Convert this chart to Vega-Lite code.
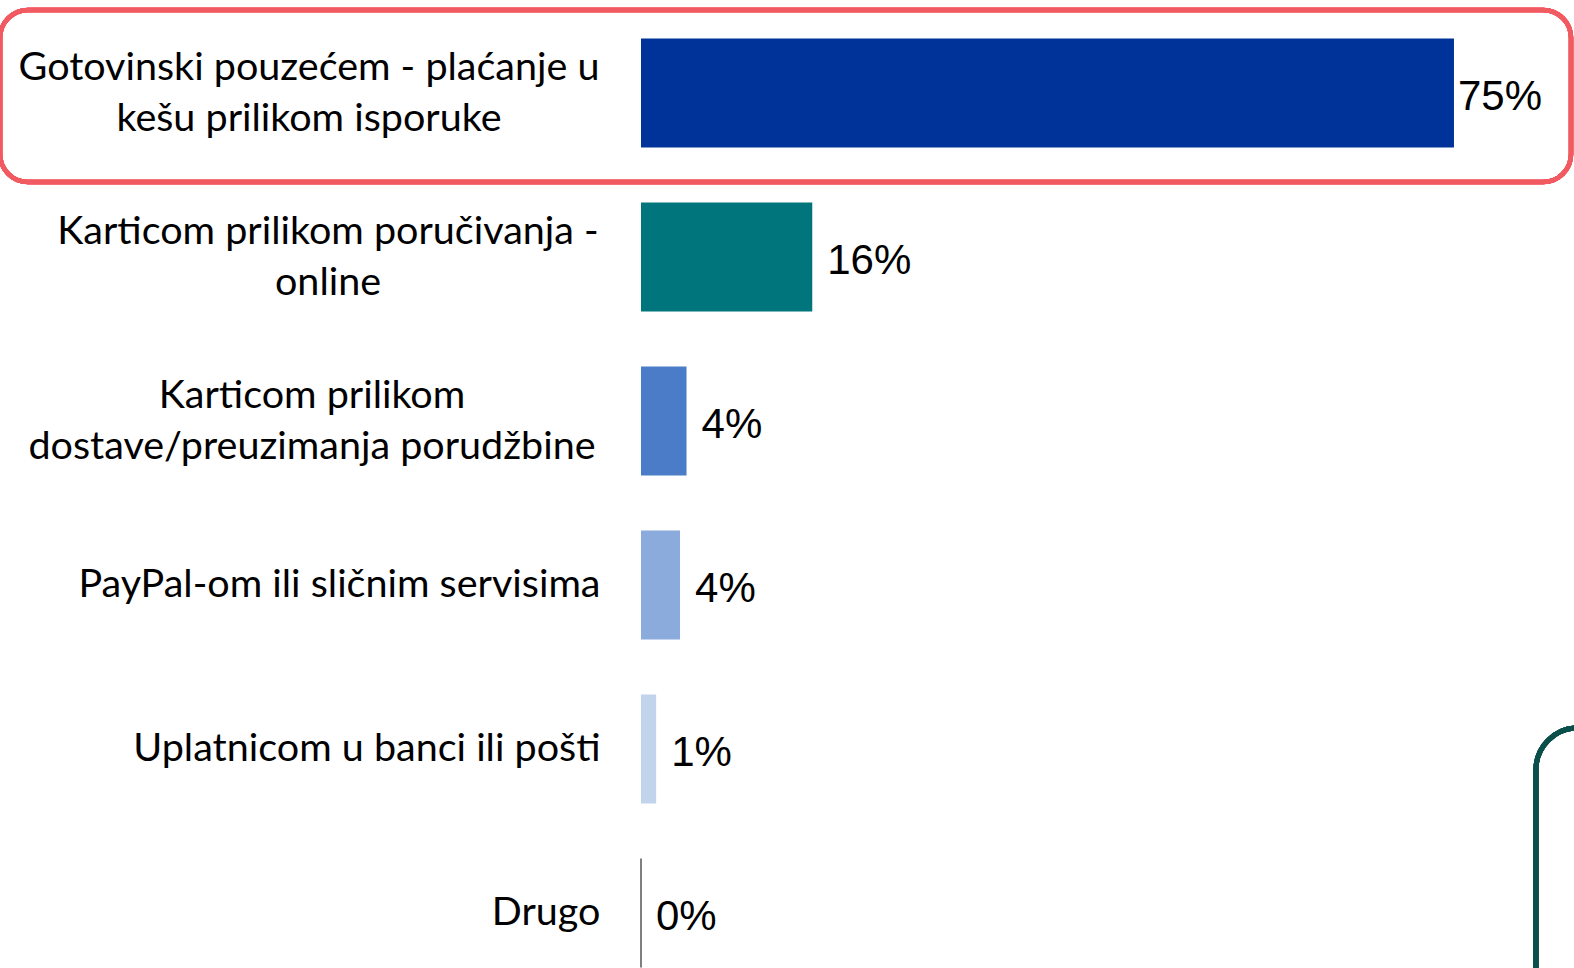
{
  "$schema": "https://vega.github.io/schema/vega-lite/v6.json",
  "autosize": {"type": "none"},
  "padding": {"left": 641, "top": 11, "right": 0, "bottom": 0},
  "width": 936,
  "height": 984,
  "background": "white",
  "config": {"view": {"stroke": null}},
  "data": {
    "values": [
      {"cat": "Gotovinski pouzećem - plaćanje u|kešu prilikom isporuke", "share": 0.75},
      {"cat": "Karticom prilikom poručivanja -|online", "share": 0.158},
      {"cat": "Karticom prilikom|dostave/preuzimanja porudžbine", "share": 0.042},
      {"cat": "PayPal-om ili sličnim servisima", "share": 0.036},
      {"cat": "Uplatnicom u banci ili pošti", "share": 0.014},
      {"cat": "Drugo", "share": 0}
    ]
  },
  "encoding": {
    "y": {
      "field": "cat",
      "type": "nominal",
      "sort": null,
      "title": null,
      "scale": {
        "domain": [
          "Gotovinski pouzećem - plaćanje u|kešu prilikom isporuke",
          "Karticom prilikom poručivanja -|online",
          "Karticom prilikom|dostave/preuzimanja porudžbine",
          "PayPal-om ili sličnim servisima",
          "Uplatnicom u banci ili pošti",
          "Drugo"
        ],
        "paddingInner": 0.335,
        "paddingOuter": 0.1675
      },
      "axis": {
        "domain": false,
        "ticks": false,
        "labelExpr": "split(datum.value, '|')",
        "labelFont": "Lato",
        "labelFontSize": 39.5,
        "labelColor": "#000000",
        "labelLineHeight": 51,
        "labelLimit": 700,
        "labelAlign": {"condition": {"test": "indexof(datum.value, '|') >= 0", "value": "center"}, "value": "right"},
        "labelOffset": {"condition": {"test": "indexof(datum.value, '|') >= 0", "value": -25.5}, "value": 0},
        "labelPadding": {
          "condition": [
            {"test": "indexof(datum.value, 'Gotovinski') >= 0", "value": 332.5},
            {"test": "indexof(datum.value, 'poručivanja') >= 0", "value": 313.5},
            {"test": "indexof(datum.value, 'dostave') >= 0", "value": 329.5}
          ],
          "value": 41
        }
      }
    },
    "x": {
      "type": "quantitative",
      "scale": {"domain": [0, 0.8635], "nice": false, "zero": true},
      "axis": null
    }
  },
  "layer": [
    {
      "mark": {"type": "bar", "fill": "white", "fillOpacity": 0, "stroke": "#F15A60", "strokeWidth": 4.5, "cornerRadius": 28, "height": {"band": 1.578}, "yOffset": 3},
      "encoding": {
        "y": {"datum": "Gotovinski pouzećem - plaćanje u|kešu prilikom isporuke", "type": "nominal"},
        "x": {"datum": -0.5913, "type": "quantitative"},
        "x2": {"datum": 0.858}
      }
    },
    {
      "mark": {"type": "bar", "fill": "white", "fillOpacity": 0, "stroke": "#0B4F4A", "strokeWidth": 5, "cornerRadius": 42, "height": {"band": 4}, "yOffset": 33},
      "encoding": {
        "y": {"datum": "Drugo", "type": "nominal"},
        "x": {"datum": 0.8256, "type": "quantitative"},
        "x2": {"datum": 1.05}
      }
    },
    {
      "mark": {"type": "bar", "strokeWidth": 2},
      "encoding": {
        "x": {"field": "share", "type": "quantitative"},
        "color": {
          "field": "cat",
          "type": "nominal",
          "legend": null,
          "scale": {
            "domain": [
              "Gotovinski pouzećem - plaćanje u|kešu prilikom isporuke",
              "Karticom prilikom poručivanja -|online",
              "Karticom prilikom|dostave/preuzimanja porudžbine",
              "PayPal-om ili sličnim servisima",
              "Uplatnicom u banci ili pošti",
              "Drugo"
            ],
            "range": ["#00339A", "#00767C", "#4A7CC8", "#8AABDC", "#C2D4EC", "#7F7F7F"]
          }
        },
        "stroke": {"condition": {"test": "datum.share == 0", "value": "#7F7F7F"}, "value": null}
      }
    },
    {
      "transform": [{"filter": "datum.share > 0.5"}],
      "mark": {"type": "text", "align": "left", "baseline": "middle", "dx": 4, "dy": 4, "font": "'Liberation Sans', Arial, sans-serif", "fontSize": 42, "color": "#000000"},
      "encoding": {
        "x": {"field": "share", "type": "quantitative"},
        "text": {"field": "share", "type": "quantitative", "format": ".0%"}
      }
    },
    {
      "transform": [{"filter": "datum.share <= 0.5"}],
      "mark": {"type": "text", "align": "left", "baseline": "middle", "dx": 15, "dy": 4, "font": "'Liberation Sans', Arial, sans-serif", "fontSize": 42, "color": "#000000"},
      "encoding": {
        "x": {"field": "share", "type": "quantitative"},
        "text": {"field": "share", "type": "quantitative", "format": ".0%"}
      }
    }
  ]
}
